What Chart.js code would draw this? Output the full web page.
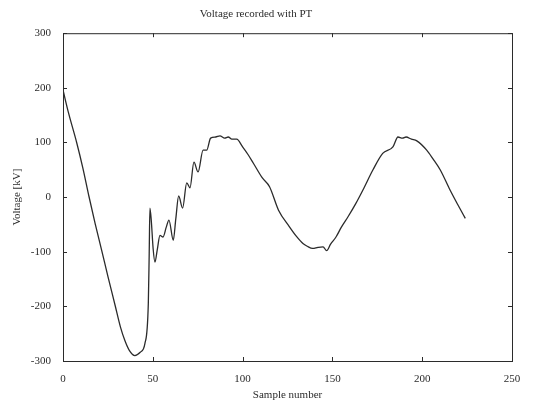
<!DOCTYPE html>
<html lang="en">
<head>
    <meta charset="UTF-8" />
    <title>Voltage recorded with PT</title>
    <script src="https://cdn.jsdelivr.net/npm/chart.js"></script>
    <style>
        body { margin: 0; background: #fff; }
        #wrap { width: 534px; height: 404px; }
    </style>
</head>
<body>
    <div id="wrap"><canvas id="voltChart" width="534" height="404"></canvas></div>

    <script>
        // sample numbers and recorded voltage (kV)
        const sampleNo = [0, 3, 7.6, 11, 14.4, 18, 21.5, 25, 29, 32, 34.5, 37, 40, 43, 45.6, 47.5, 48, 48.4, 49.2, 50.2, 51.2,
            52.5, 54, 55.7, 57.5, 59, 61.4, 62.8, 64.4, 66.6, 68.9, 70.7, 72.9, 75.2, 78, 80, 82.2, 85, 87.4, 90, 92, 94,
            96.7, 100, 103, 106, 111, 115, 120, 126, 130, 133.6, 136, 139, 142, 144.8, 146.8, 149, 152, 155, 158.7,
            163, 167, 172.6, 178, 183.7, 186.5, 189, 191, 194, 197, 202.5, 206, 210, 215.5, 220, 224];
        const voltageKV = [196, 155, 100, 54, 2, -50, -97, -145, -198, -238, -263, -281, -290, -284, -268, -195, -103, -20, -45, -95, -119,
            -96, -70, -73, -55, -42, -79, -40, 2, -20, 26, 17, 64, 46, 86, 86, 108, 110, 112, 108, 110, 106,
            106, 92, 78, 62, 35, 19, -24, -54, -72, -85, -90, -94, -92, -91, -98, -86, -73, -55, -36,
            -12, 13, 50, 80, 92, 110, 108, 110, 106, 103, 86, 70, 50, 13, -15, -39];

        const xTicks = [0, 50, 100, 150, 200, 250];
        const yTicks = [-300, -200, -100, 0, 100, 200, 300];

        const ink = '#2b2b2b';
        const serif = "'Liberation Serif', 'DejaVu Serif', serif";

        // matlab style box with inward ticks on all four sides
        const boxTicks = {
            id: 'boxTicks',
            afterDraw(chart) {
                const { ctx, chartArea: a, scales: { x, y } } = chart;
                ctx.save();
                ctx.strokeStyle = ink;
                ctx.lineWidth = 1;
                ctx.strokeRect(a.left + 0.5, a.top + 0.5, a.right - a.left, a.bottom - a.top);
                ctx.beginPath();
                xTicks.forEach(v => {
                    const px = Math.round(x.getPixelForValue(v)) + 0.5;
                    ctx.moveTo(px, a.bottom); ctx.lineTo(px, a.bottom - 4);
                    ctx.moveTo(px, a.top); ctx.lineTo(px, a.top + 4);
                });
                yTicks.forEach(v => {
                    const py = Math.round(y.getPixelForValue(v)) + 0.5;
                    ctx.moveTo(a.left, py); ctx.lineTo(a.left + 4, py);
                    ctx.moveTo(a.right, py); ctx.lineTo(a.right - 4, py);
                });
                ctx.stroke();
                ctx.restore();
            }
        };

        new Chart(document.getElementById('voltChart'), {
            type: 'line',
            data: {
                datasets: [{
                    data: sampleNo.map((s, i) => ({ x: s, y: voltageKV[i] })),
                    borderColor: ink,
                    borderWidth: 1.3,
                    pointRadius: 0,
                    cubicInterpolationMode: 'monotone',
                    fill: false
                }]
            },
            options: {
                responsive: false,
                animation: false,
                layout: { padding: { left: 0, right: 22, top: 0, bottom: 0 } },
                plugins: {
                    legend: { display: false },
                    tooltip: { enabled: false },
                    title: {
                        display: true,
                        text: 'Voltage recorded with PT',
                        color: ink,
                        font: { family: serif, size: 11, weight: 'normal' },
                        padding: { top: 8, bottom: 12 }
                    }
                },
                scales: {
                    x: {
                        type: 'linear',
                        min: 0,
                        max: 250,
                        afterBuildTicks: s => { s.ticks = xTicks.map(v => ({ value: v })); },
                        afterFit: s => { s.height = 43; },
                        grid: { display: false },
                        border: { display: false },
                        ticks: { color: ink, font: { family: serif, size: 11 }, padding: 4, maxRotation: 0 },
                        title: {
                            display: true,
                            text: 'Sample number',
                            color: ink,
                            font: { family: serif, size: 11 },
                            padding: { top: 0, bottom: 2 }
                        }
                    },
                    y: {
                        min: -300,
                        max: 300,
                        afterBuildTicks: s => { s.ticks = yTicks.map(v => ({ value: v })); },
                        afterFit: s => { s.width = 63; },
                        grid: { display: false },
                        border: { display: false },
                        ticks: { color: ink, font: { family: serif, size: 11 }, padding: 4 },
                        title: {
                            display: true,
                            text: 'Voltage [kV]',
                            color: ink,
                            font: { family: serif, size: 11 },
                            padding: { top: 11, bottom: 0 }
                        }
                    }
                }
            },
            plugins: [boxTicks]
        });
    </script>
</body>
</html>
